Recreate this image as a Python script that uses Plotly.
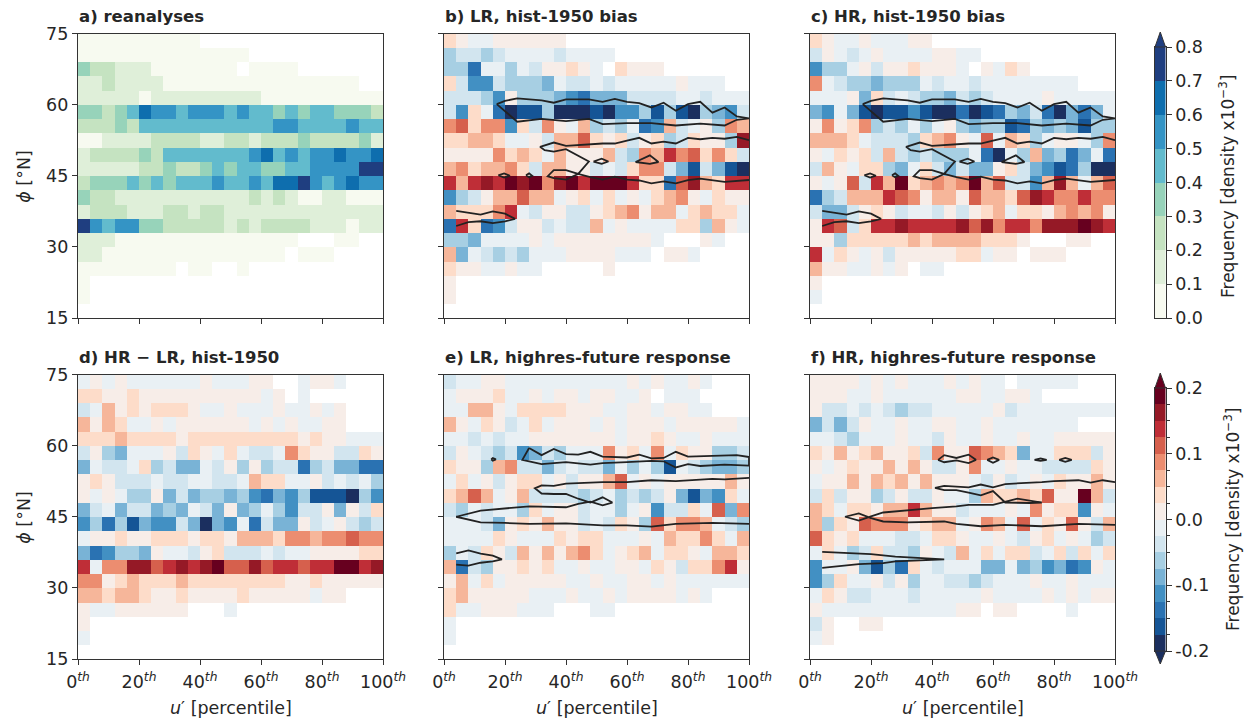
import plotly.graph_objects as go

# Cell values are read as colour-bin numbers: 0 = empty cell.
# reanalyses: bin k covers (k-1)*0.1 .. k*0.1; others: bin +/-k covers +/-(k-1)*0.025 .. +/-k*0.025
PANEL_A = [
[1,1,1,1,1,1,1,1,1,1,0,0,0,0,0,0,0,0,0,0,0,0,0,0,0],
[1,1,1,1,1,1,1,1,1,1,1,1,1,1,0,0,0,0,0,0,0,0,0,0,0],
[4,3,3,2,2,2,1,1,1,1,1,1,1,0,1,1,1,1,0,0,0,0,0,0,0],
[2,2,3,2,2,2,2,1,1,1,1,1,1,1,1,1,1,1,1,1,1,1,1,0,0],
[2,2,2,2,2,1,2,2,2,2,2,2,2,2,2,1,1,1,1,1,1,1,1,1,1],
[4,4,3,4,5,7,6,6,5,6,6,6,5,6,5,5,4,5,4,5,5,4,4,4,3],
[3,3,3,4,3,5,5,5,5,5,5,5,5,5,5,5,6,6,5,5,5,5,6,5,5],
[1,1,2,2,2,2,3,3,3,3,2,2,3,3,2,3,3,3,4,3,3,3,3,4,2],
[2,3,3,3,3,4,3,5,5,5,5,5,5,5,6,7,5,6,5,6,6,7,6,6,7],
[2,2,2,2,2,3,3,4,3,3,4,5,4,5,5,4,4,5,5,6,6,6,6,8,8],
[3,4,4,4,5,4,5,4,5,5,5,6,5,5,6,5,7,7,8,6,5,6,7,6,6],
[4,3,3,2,2,2,2,2,2,2,2,2,2,2,3,2,3,2,1,1,2,2,1,1,1],
[2,3,3,3,2,2,2,3,3,2,3,3,2,2,2,2,2,2,2,2,2,2,2,2,2],
[8,6,5,6,6,4,4,3,3,3,3,3,2,3,2,3,3,3,3,2,2,2,1,2,2],
[2,2,2,1,1,1,1,1,1,1,1,1,1,1,1,1,1,1,0,0,0,1,1,0,0],
[2,2,1,1,1,1,1,1,1,1,1,1,1,1,1,1,1,0,1,1,1,0,0,0,0],
[1,1,1,1,1,1,1,1,0,1,1,0,0,1,0,0,0,0,0,0,0,0,0,0,0],
[1,0,0,0,0,0,0,0,0,0,0,0,0,0,0,0,0,0,0,0,0,0,0,0,0],
[1,0,0,0,0,0,0,0,0,0,0,0,0,0,0,0,0,0,0,0,0,0,0,0,0],
[0,0,0,0,0,0,0,0,0,0,0,0,0,0,0,0,0,0,0,0,0,0,0,0,0],
]
PANEL_B = [
[2,1,-1,-1,1,1,1,1,1,1,0,0,0,0,0,0,0,0,0,0,0,0,0,0,0],
[-3,-2,-2,-3,-2,-1,-1,-1,-1,-2,-1,-1,-1,-1,0,0,0,0,0,0,0,0,0,0,0],
[-3,-3,-6,-1,-1,-3,-1,-2,1,1,2,1,-1,0,2,1,1,1,0,0,0,0,0,0,0],
[2,-2,-5,-5,-2,-3,-3,-3,-4,-1,-2,-2,-1,-2,-1,-1,-1,-1,-1,1,-1,-1,-1,0,0],
[-2,-2,-2,-3,-5,1,-3,-3,-3,-4,-5,-6,-4,-4,-4,-2,-2,-2,-2,-1,-1,-2,-1,-1,-1],
[-2,-5,2,-1,-6,-8,-7,-7,-3,-8,-8,-8,-7,-8,-5,-5,-3,-7,-3,-7,-8,-3,-4,-5,-2],
[4,5,2,4,4,-5,2,-2,4,1,-1,3,-3,-2,-3,-1,-6,-5,3,-2,-1,1,-3,4,3],
[2,2,3,3,2,-1,-1,1,-2,3,3,5,2,1,2,-2,1,2,-3,-2,2,1,1,-3,7],
[1,1,1,1,4,2,3,2,-1,3,1,1,1,3,-2,-3,4,3,6,4,5,2,4,2,-2],
[3,4,2,3,3,4,2,-2,3,3,1,1,-2,-1,-2,2,4,4,-2,-4,-7,-2,-4,-7,-8],
[6,3,6,7,6,8,7,8,4,7,8,6,8,8,8,6,2,2,-6,5,7,3,2,6,6],
[-5,-3,-2,1,3,3,5,3,3,-1,1,2,-1,2,-1,1,-1,2,3,4,1,-1,2,1,1],
[3,2,2,2,4,6,-1,-2,1,1,-2,-2,1,2,3,4,1,3,3,-1,2,3,2,2,-1],
[-6,6,2,-6,-5,-2,1,1,-2,-1,-2,-2,3,-1,1,-1,-1,-1,-1,2,2,-3,3,1,-1],
[-3,-3,-4,-1,-1,-1,-1,1,-1,1,1,1,1,1,1,1,1,-1,0,0,0,1,-1,0,0],
[3,-4,-1,-2,-3,-2,-3,-1,-1,-1,1,1,1,1,-1,-1,-1,0,1,1,-1,0,0,0,0],
[2,1,1,-1,-1,1,-1,-1,0,0,0,0,0,1,0,0,0,0,0,0,0,0,0,0,0],
[1,0,0,0,0,0,0,0,0,0,0,0,0,0,0,0,0,0,0,0,0,0,0,0,0],
[1,0,0,0,0,0,0,0,0,0,0,0,0,0,0,0,0,0,0,0,0,0,0,0,0],
[0,0,0,0,0,0,0,0,0,0,0,0,0,0,0,0,0,0,0,0,0,0,0,0,0],
]
PANEL_C = [
[2,1,-1,-1,1,-1,-1,-1,1,1,0,0,0,0,0,0,0,0,0,0,0,0,0,0,0],
[-2,1,-1,-2,-1,1,-1,-1,-1,-1,1,1,-1,-1,0,0,0,0,0,0,0,0,0,0,0],
[-5,-3,-3,-1,1,-2,1,1,2,1,1,1,-1,0,1,-1,2,1,0,0,0,0,0,0,0],
[4,-1,-2,-3,-3,-4,-3,-3,-3,-1,-2,-1,-1,-2,-1,-1,-1,-1,-1,-1,-1,-1,0,0,0],
[-1,-1,-1,1,-4,2,-2,-1,-2,-3,-3,-4,-2,-3,-2,-1,-1,-1,-1,1,-1,-1,-1,-1,-1],
[-4,-5,-1,-4,-7,-8,-7,-7,-5,-7,-8,-8,-6,-8,-7,-6,-3,-4,-2,-6,-8,-4,-6,-4,-1],
[1,4,1,2,4,-3,-2,-3,-1,-3,-1,1,-3,-4,-3,-3,-7,-6,-3,-4,-3,-4,-7,-3,-3],
[3,3,3,2,-1,-2,-2,-2,-3,2,3,4,1,-1,5,-1,3,2,-3,-1,1,1,-1,-3,4],
[1,-1,2,1,2,-2,3,-2,-3,-2,-3,-3,-3,-1,-6,-8,-1,-3,3,-4,-3,-6,-4,-1,-6],
[-2,3,1,-1,2,2,-3,-4,-1,2,-2,-4,-2,-4,-4,1,2,-2,-4,-5,-7,-6,-3,-8,-8],
[1,-1,1,5,-2,6,3,8,2,3,4,3,4,8,3,5,-2,-2,-5,3,7,3,-1,3,5],
[-6,-3,-2,3,3,3,6,5,4,1,3,3,1,5,3,3,2,5,7,6,4,4,6,4,4],
[-2,-4,-4,-2,1,2,1,-2,-1,-1,-2,1,-2,1,2,3,-1,2,2,1,3,4,3,4,1],
[1,6,5,-2,2,6,6,7,6,6,6,6,7,5,7,4,6,6,4,7,7,7,8,7,6],
[1,1,-3,2,2,2,2,2,3,2,3,3,3,3,2,2,2,1,0,0,0,1,1,0,0],
[6,-1,2,1,-1,1,-2,1,1,1,1,1,2,2,-1,1,1,0,1,1,1,0,0,0,0],
[3,1,1,-1,-1,1,-1,1,0,-1,-1,0,0,0,0,0,0,0,0,0,0,0,0,0,0],
[1,0,0,0,0,0,0,0,0,0,0,0,0,0,0,0,0,0,0,0,0,0,0,0,0],
[-1,0,0,0,0,0,0,0,0,0,0,0,0,0,0,0,0,0,0,0,0,0,0,0,0],
[0,0,0,0,0,0,0,0,0,0,0,0,0,0,0,0,0,0,0,0,0,0,0,0,0],
]
PANEL_D = [
[-1,1,-1,1,-1,-1,-1,-1,-1,-1,1,-1,-1,-1,1,1,0,0,-1,1,1,-1,0,0,0],
[2,2,1,1,2,1,1,1,1,1,1,1,1,1,1,-1,1,0,-1,0,0,0,0,0,0],
[-2,-1,3,1,2,1,2,2,2,1,-1,-1,1,-1,-1,-1,1,-1,-1,1,-1,1,0,0,0],
[3,1,3,2,-1,-1,1,-1,1,1,1,1,1,1,-1,1,-1,1,-1,-1,1,1,0,0,0],
[2,2,2,3,2,2,2,2,1,2,2,2,2,2,2,2,2,2,1,2,1,1,-1,-1,-1],
[-2,1,-3,-4,-1,-1,-1,1,-2,2,1,-1,2,-1,-2,-2,-1,4,2,1,1,-2,-2,2,1],
[-4,-1,-2,-2,-1,2,-3,-2,-4,-4,-1,-2,1,-3,1,-3,-2,-2,-6,-3,-2,-4,-4,-6,-6],
[1,2,1,-2,-2,-2,-1,-2,-2,-1,-1,-2,-2,-1,3,2,2,-1,-1,1,-2,-1,-2,-1,-3],
[1,-1,1,-1,-3,-3,1,-4,-2,-4,-3,-3,-4,-3,-5,-6,-4,-5,-3,-7,-7,-7,-8,-3,-5],
[-4,-2,-1,-4,-2,-2,-4,-3,-4,-1,-2,-4,1,-4,-3,-1,-3,-5,-2,-2,1,-4,1,-2,2],
[-5,-3,-6,-3,-7,-4,-5,-5,-2,-4,-8,-4,-5,-1,-6,-2,-4,-4,1,-2,-1,1,-2,-3,-2],
[-1,1,1,2,1,1,2,2,2,1,2,2,1,3,3,3,2,4,4,3,4,4,5,4,4],
[-4,-6,-5,-3,-3,-4,1,-1,-1,-2,1,2,-2,-2,-2,-1,-2,-1,-1,1,1,1,1,2,2],
[6,-1,4,4,7,7,5,6,7,6,7,8,5,5,7,5,6,6,5,6,6,8,8,6,7],
[4,4,1,2,3,2,2,2,3,2,2,2,2,2,2,2,2,1,1,2,1,1,1,1,1],
[3,3,2,3,3,2,1,1,2,1,1,1,1,2,1,1,1,1,1,-1,1,1,0,0,0],
[1,-1,-1,1,1,1,1,1,1,0,0,0,-1,0,0,0,0,0,0,0,0,0,0,0,0],
[1,0,0,0,0,0,0,0,0,0,0,0,0,0,0,0,0,0,0,0,0,0,0,0,0],
[-1,0,0,0,0,0,0,0,0,0,0,0,0,0,0,0,0,0,0,0,0,0,0,0,0],
[0,0,0,0,0,0,0,0,0,0,0,0,0,0,0,0,0,0,0,0,0,0,0,0,0],
]
PANEL_E = [
[-2,-1,-1,1,1,-1,-1,-1,-1,-1,-1,-1,-1,-1,-1,1,-1,1,-1,-1,1,-1,0,0,0],
[-1,1,1,1,2,-1,-1,1,-1,1,1,-1,1,1,-1,-1,1,0,-1,-1,-1,0,0,0,0],
[-1,-1,3,3,1,-1,2,2,2,2,1,1,1,-1,-1,1,1,-1,1,1,-1,-1,0,0,0],
[3,1,-1,2,1,-2,-1,2,-1,1,1,1,-1,1,-1,1,1,1,-1,1,1,1,1,1,-1],
[-1,-1,-2,-1,-2,-1,-1,1,1,1,1,1,1,1,-1,1,1,2,1,-1,-1,1,-1,-1,-1],
[-2,1,-1,-2,-3,-2,-5,-4,-2,-3,-1,-1,-1,4,1,2,-1,4,-1,2,1,1,-3,-3,-2],
[2,1,1,-3,3,4,-2,-2,-4,-2,-1,-2,-2,-4,-1,-3,-1,-3,-7,-1,-2,-3,-4,-4,-3],
[-1,2,-1,1,-2,1,2,2,-1,1,-2,1,1,3,5,-1,1,-1,1,1,1,1,1,3,1],
[2,3,5,3,-1,1,3,-2,-2,-2,-2,-3,-2,-1,-3,-2,-3,-2,1,-4,-7,-4,-5,2,-1],
[-2,-3,-1,-2,-1,-1,-3,2,-1,1,1,-2,-1,-1,-3,-1,1,-5,-2,-2,2,-1,5,-4,4],
[-1,-1,-1,-2,-4,1,2,1,3,1,1,-2,-1,-2,2,1,-3,5,2,4,4,3,-1,-2,-3],
[-1,-1,-1,-1,2,1,-1,-1,-1,2,1,2,2,-1,-1,-1,1,-1,3,2,2,4,2,-1,3],
[-3,-1,-2,2,1,-2,3,1,3,1,3,4,2,-1,1,2,3,-1,2,2,1,-1,3,3,2],
[3,-6,-2,-3,1,1,2,1,2,-1,-1,1,-1,-1,1,1,-1,2,1,-2,2,2,4,6,1],
[1,3,-1,2,-1,1,1,1,1,1,-1,-1,1,-1,-1,1,1,-1,1,-1,-1,-1,-1,-1,-1],
[2,3,1,1,1,1,1,-1,-1,-1,1,-1,-1,1,-1,1,1,1,1,-1,1,-1,0,0,0],
[2,-1,-1,1,1,1,-1,-1,-1,0,0,0,-1,-1,0,0,0,0,0,0,0,0,0,0,0],
[-1,0,0,0,0,0,0,0,0,0,0,0,0,0,0,0,0,0,0,0,0,0,0,0,0],
[-1,0,0,0,0,0,0,0,0,0,0,0,0,0,0,0,0,0,0,0,0,0,0,0,0],
[0,0,0,0,0,0,0,0,0,0,0,0,0,0,0,0,0,0,0,0,0,0,0,0,0],
]
PANEL_F = [
[1,1,1,1,-1,1,-1,1,-1,-1,-1,1,-1,1,-1,-1,0,-1,-1,-1,-1,-1,0,0,0],
[1,1,1,-1,-1,1,-1,-1,-1,-1,-1,-1,1,1,-1,-1,1,1,-1,0,0,0,0,0,0],
[1,-2,-2,-1,-2,-1,-2,-3,-2,-2,-1,-1,-1,-1,-1,1,-2,-1,-1,-1,-1,-1,-1,-1,-1],
[-4,-2,-4,-2,1,-1,-1,1,-1,-1,1,1,-1,-1,1,-1,-1,-1,-1,-1,-1,-1,0,0,0],
[-1,-1,-2,-3,-1,-1,-1,1,-1,-1,-2,1,-1,-1,1,-1,-1,1,-1,-1,1,1,1,1,1],
[2,1,3,1,2,3,1,1,2,-2,4,1,1,5,4,3,2,-4,-1,-1,2,2,2,-2,1],
[1,-1,1,2,1,1,3,1,3,1,-2,-2,1,4,-1,-1,1,-1,-1,-2,-2,-2,-2,2,1],
[-1,1,1,3,1,3,2,3,1,3,1,1,1,-1,-2,1,-2,-1,1,-1,2,1,1,3,1],
[-2,2,-2,1,1,-3,-2,1,-2,-2,1,-1,-1,-3,3,2,2,3,2,5,1,1,8,3,-2],
[3,2,-1,2,2,1,3,3,6,3,1,1,-2,-1,-1,-1,1,-1,4,1,2,2,-5,1,-1],
[3,-3,2,1,5,4,4,4,1,2,3,3,-1,1,4,3,-1,5,-1,2,1,5,1,-2,3],
[5,2,1,2,-1,-1,-1,-2,-2,-1,2,2,1,-1,-1,1,-1,-2,1,2,-1,1,-1,-3,-2],
[-1,2,-1,-3,-2,2,-2,-2,-3,1,-1,-2,3,-1,2,-1,2,2,-2,-1,2,-2,2,-1,2],
[-5,-1,-1,1,-4,-7,-3,-6,2,-1,-2,-1,-1,-1,-4,-4,-1,-4,-3,-5,-4,-6,-5,1,-1],
[-5,-3,2,-1,-1,1,-2,1,-3,-1,-1,-2,-2,-3,-2,-1,-1,-1,1,-1,-1,1,-1,-1,-1],
[-1,2,1,-2,-2,-1,-1,-1,-2,-1,-1,-1,-1,-1,1,-1,-1,-1,-1,1,-1,1,-1,1,1],
[1,-1,-1,-1,-1,-1,-1,-1,-1,-1,-1,-1,1,1,0,1,1,0,0,0,0,-1,0,0,0],
[-2,1,0,0,1,1,0,0,0,0,0,0,0,0,0,0,0,0,0,0,0,0,0,0,0],
[-1,1,0,0,0,0,0,0,0,0,0,0,0,0,0,0,0,0,0,0,0,0,0,0,0],
[0,0,0,0,0,0,0,0,0,0,0,0,0,0,0,0,0,0,0,0,0,0,0,0,0],
]

# Contours of the reanalysis density: (percentile, latitude) vertices, None splits paths
HIST_X = [17.3,20,24,32,36,40,47.5,52,56,60,64,68,72,76,80,84,88,92,96,100,96,92,84,76,68,60,52,47.5,40,32,24,20,17.3,None,
          100,96,92,88,84,80,76,72,68,64,60,56,52,40,36,31.5,33,36,40,44,47.5,44,40,36,34,36,40,44,48,52,56,60,64,68,72,76,80,84,88,92,100,None,
          17.8,19.7,21.6,19.7,17.8,None, 26.9,27.9,28.9,27.9,26.9,None, 49,51.7,53.9,51.7,49,None, 62.8,67.5,70.3,67.5,62.8,None,
          4,12,16,20,23.3,20,16,12,8,4]
HIST_Y = [60.1,60.8,61.3,60.9,60.4,61.1,61.1,60.6,61.2,60.6,60.3,59.4,60.4,58.7,60.1,60.6,58.3,59.4,57.5,57.1,56.8,55.6,56,55.6,56.1,56.1,55.9,57,56.5,57,56.4,58.5,60.1,None,
          52.5,53.2,52.8,53,52.7,53,51.8,52.2,51.8,53,52.4,51.8,51.8,51.3,52,51.1,50.4,50.1,50.6,49.2,48,45.4,46.2,46.2,44.9,44.5,44.2,45.4,44.7,44.2,44.8,44.2,44,43.4,43.8,43.4,44.1,44.4,44,43.7,44.1,None,
          45.1,45.5,45,44.6,45.1,None, 45.1,45.5,45,44.7,45.1,None, 48,48.6,48,47.5,48,None, 47.9,49.3,47.9,47.5,47.9,None,
          37.6,36.8,37.5,37,35.9,35.4,35,35.4,35.2,34.4]
LRF_X = [15.5,16,17,16,15.5,None,
         27.9,32,36,40,44,48,52,60,64,68,72,76,80,88,96,100,100,92,84,80,76,72,68,60,52,48,40,32,28,25.7,27.9,None,
         100,92,88,76,68,60,52,44,40,36,32,29.8,32,36,40,44,48,52,55.2,52,48,44,40,28,20,12,4,12,20,28,40,52,60,68,76,88,100,None,
         4,8,12,16,19,16,12,8,4]
LRF_Y = [57.1,57.4,57.1,56.8,57.1,None,
         59.5,58,59.3,58.2,58.1,58.7,57.7,57.5,58.1,57.3,57.4,58.7,57.7,57.9,58,57.6,55.8,56,55.7,56.1,55.4,56.7,56.8,56.5,56.3,56,56.5,56.1,56.7,57,59.5,None,
         53.2,52.9,53,52.5,52.7,52.3,52.3,52,52,51.5,51.6,51,49.9,49.8,49.8,48.8,48,49.1,48,47.4,48.2,47.7,47,47.2,46.8,46.3,45,43.8,43.7,43.5,43.6,43.2,43.2,42.9,43.5,43.7,43.5,None,
         37.3,37.9,37.2,36.8,36,35.6,35.3,34.7,34.9]
HRF_X = [42,44,48,52,54.4,52,48,44,42,None, 58.1,60,62,60,58.1,None, 73.6,75.6,77.6,75.6,73.6,None, 81.7,83.7,85.8,83.7,81.7,None,
         100,96,92,88,80,76,64,60,56,52,44,41,44,48,52,56,60,64,72,76,68,64,60,52,48,40,32,24,20,16,11.5,16,20,24,32,40,44,48,56,64,76,88,100,None,
         4,20,28,44,28,24,16,4]
HRF_Y = [57,58,57.4,58.1,57,56.3,56.9,56.5,57,None, 57,57.5,57,56.4,57,None, 57,57.3,57,56.8,57,None, 57,57.4,57,56.6,57,None,
         52.3,52.7,52.2,52.7,52.5,52.3,51.9,51.2,51.8,51.2,51.5,51.1,50.6,50.6,50.1,49.5,50.4,48,47.9,48,48.8,48.2,47.5,47.5,47.2,46.8,46.3,45.9,45.1,44.2,45,45.7,44.7,44,43.8,43.9,44,43.5,43,43.3,43,43.5,43.3,None,
         37.6,37.1,36.6,36,35.6,35.2,35,34.2]

SEQ_COLORS = ['#f7faf0','#dfefd9','#c5e3c1','#97d3ba','#62bbcd','#3494c5','#0e6eae','#1f3e80']
DIV_COLORS = ['#1b2f5f','#155596','#2a72b2','#4290c3','#79b3d6','#a7cfe3','#d2e5ef','#e9f0f4',
              '#f7ede8','#fddcc9','#f6b69a','#ec8d70','#d6604d','#bf2e37','#951926','#67001f']
TITLES = ['a) reanalyses','b) LR, hist-1950 bias','c) HR, hist-1950 bias',
          'd) HR \u2212 LR, hist-1950','e) LR, highres-future response','f) HR, highres-future response']
X_TICKS = [0,20,40,60,80,100]
X_LABELS = [f'{v}<i><sup>th</sup></i>' for v in X_TICKS]
Y_TICKS = [15,30,45,60,75]
SEQ_TICKS = [0,0.1,0.2,0.3,0.4,0.5,0.6,0.7,0.8]
DIV_TICKS = [-0.2,-0.1,0.0,0.1,0.2]
DIV_LABELS = ['-0.2','-0.1','0.0','0.1','0.2']
CB_TITLE = 'Frequency [density x10<sup>\u22123</sup>]'
X_TITLE = '<i>u</i>\u2032 [percentile]'
Y_TITLE = '<i>\u03d5</i> [\u00b0N]'

W, H = 1250, 719
INK = '#262626'; SPINE = '#333333'; FONT = 'DejaVu Sans'
FS = 17.5
PANEL_L = [78, 444, 810]; PANEL_W = 305
ROW_T = [33.5, 374.5]; PANEL_H = 284.5
X_EDGES = [4*i for i in range(26)]
Y_EDGES = [15+3*i for i in range(21)]

def seq_val(k): return None if k == 0 else (k-0.5)*0.1
def div_val(k): return None if k == 0 else (abs(k)-0.5)*0.025*(1 if k > 0 else -1)
def steps(colors):
    out = []
    for i, c in enumerate(colors):
        out += [[i/len(colors), c], [(i+1)/len(colors), c]]
    return out
def dx(l, r): return [l/W, r/W]
def dy(t, b): return [1-b/H, 1-t/H]
def note(text, px, py, size=FS, angle=0, xanchor='center', yanchor='middle'):
    return dict(text=text, xref='paper', yref='paper', x=px/W, y=1-py/H, xanchor=xanchor, yanchor=yanchor,
                textangle=angle, showarrow=False, font=dict(family=FONT, size=size, color=INK))

fig = go.Figure()
layout = {}
panels = [PANEL_A, PANEL_B, PANEL_C, PANEL_D, PANEL_E, PANEL_F]
contours = [None, (HIST_X,HIST_Y), (HIST_X,HIST_Y), None, (LRF_X,LRF_Y), (HRF_X,HRF_Y)]
annotations = []
for i, rows in enumerate(panels):
    n = i+1; col = i % 3; row = i//3
    assert len(rows) == 20 and all(len(r) == 25 for r in rows), i
    fn = seq_val if i == 0 else div_val
    z = [[fn(k) for k in r] for r in rows[::-1]]
    xa, ya = f'x{n}', f'y{n}'
    fig.add_trace(go.Heatmap(x=X_EDGES, y=Y_EDGES, z=z, xaxis=xa, yaxis=ya, showscale=False,
        colorscale=steps(SEQ_COLORS if i == 0 else DIV_COLORS),
        zmin=0 if i == 0 else -0.2, zmax=0.8 if i == 0 else 0.2, hoverongaps=False))
    if contours[i]:
        fig.add_trace(go.Scatter(x=contours[i][0], y=contours[i][1], mode='lines', xaxis=xa, yaxis=ya,
            line=dict(color='#222222', width=1.8), showlegend=False, hoverinfo='skip'))
    common = dict(showline=True, linecolor=SPINE, linewidth=1.3, mirror=True, ticks='outside', ticklen=5,
                  tickwidth=1.3, tickcolor=SPINE, showgrid=False, zeroline=False, automargin=False,
                  tickfont=dict(family=FONT, size=FS, color=INK))
    l = PANEL_L[col]; t = ROW_T[row]
    layout[f'xaxis{n}'] = dict(common, domain=dx(l, l+PANEL_W), range=[0,100], anchor=ya, tickmode='array',
        tickvals=X_TICKS, ticktext=X_LABELS, showticklabels=(row == 1), ticklabelstandoff=2)
    layout[f'yaxis{n}'] = dict(common, domain=dy(t, t+PANEL_H), range=[15,75], anchor=xa, tickmode='array',
        tickvals=Y_TICKS, ticktext=[str(v) for v in Y_TICKS], showticklabels=(col == 0))
    annotations.append(note(f'<b>{TITLES[i]}</b>', l-1, t-5.5, size=16.5, xanchor='left', yanchor='bottom'))
    if row == 1:
        annotations.append(note(X_TITLE, l+PANEL_W/2, 707.5))
    if col == 0:
        annotations.append(note(Y_TITLE, 24, t+PANEL_H/2, angle=-90))

# colour bars as small subplots with their own axes
def add_bar(n, colors, lo, hi, top, bottom, ticks, labels, minor, zlo, zhi):
    m = len(colors); step = (hi-lo)/m
    edges = [lo+step*j for j in range(m+1)]
    z = [[lo+step*(j+0.5)] for j in range(m)]
    fig.add_trace(go.Heatmap(x=[0,1], y=edges, z=z, xaxis=f'x{n}', yaxis=f'y{n}', showscale=False,
        colorscale=steps(colors), zmin=zlo, zmax=zhi, hoverinfo='skip'))
    layout[f'xaxis{n}'] = dict(domain=dx(1155,1165.5), range=[0,1], anchor=f'y{n}', showticklabels=False, ticks='',
        showgrid=False, zeroline=False, showline=True, linecolor=SPINE, linewidth=1.3, mirror=True)
    ya = dict(domain=dy(top,bottom), range=[lo,hi], anchor=f'x{n}', side='right', tickmode='array', tickvals=ticks,
        ticktext=labels, ticks='outside', ticklen=5, tickwidth=1.3, tickcolor=SPINE, showgrid=False, zeroline=False,
        showline=True, linecolor=SPINE, linewidth=1.3, mirror=True, automargin=False,
        tickfont=dict(family=FONT, size=FS, color=INK))
    if minor:
        ya['minor'] = dict(dtick=minor, ticks='outside', ticklen=3, tickwidth=1, tickcolor=SPINE, tick0=lo)
    layout[f'yaxis{n}'] = ya

add_bar(7, SEQ_COLORS, 0, 0.8, 47, 318, SEQ_TICKS, [f'{v:.1f}' for v in SEQ_TICKS], None, 0, 0.8)
add_bar(8, DIV_COLORS, -0.2, 0.2, 388, 651, DIV_TICKS, DIV_LABELS, 0.025, -0.2, 0.2)
annotations.append(note(CB_TITLE, 1227, 187, size=17, angle=-90))
annotations.append(note(CB_TITLE, 1232, 520, size=17, angle=-90))

def tri(tip, base, colour):
    x0, x1 = 1155/W, 1165.5/W
    xm = (x0+x1)/2
    return dict(type='path', xref='paper', yref='paper', layer='above',
        path=f'M {x0} {1-base/H} L {xm} {1-tip/H} L {x1} {1-base/H} Z',
        fillcolor=colour, line=dict(color=SPINE, width=1))

fig.update_layout(width=W, height=H, autosize=False, margin=dict(l=0,r=0,t=0,b=0), showlegend=False,
    paper_bgcolor='white', plot_bgcolor='white', annotations=annotations,
    shapes=[tri(32,47,SEQ_COLORS[-1]), tri(373,388,DIV_COLORS[-1]), tri(664,651,DIV_COLORS[0])],
    font=dict(family=FONT, color=INK), **layout)
fig.write_html('out.html', config={'displayModeBar': False},
    post_script="document.body.style.margin='0';document.body.style.overflow='hidden';")
